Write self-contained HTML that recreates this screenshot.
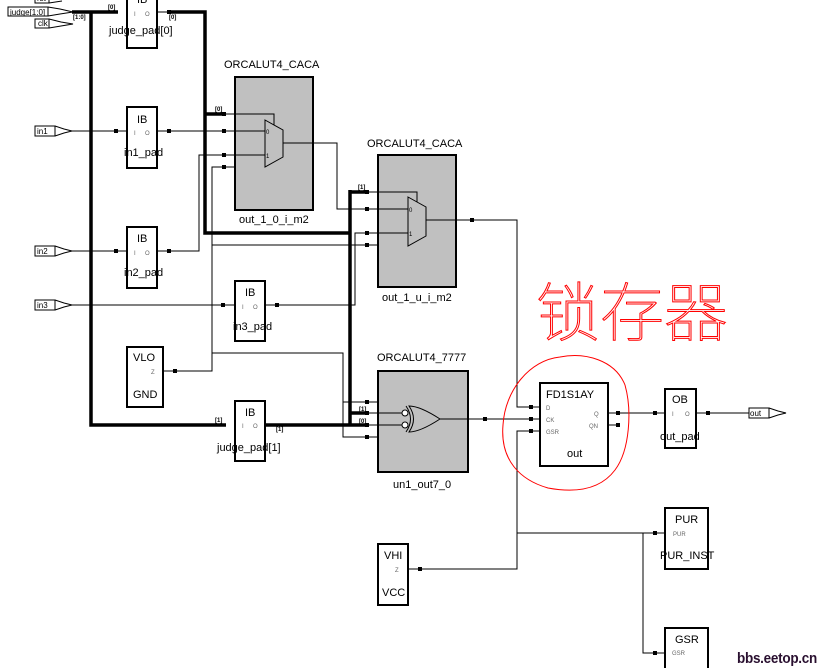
<!DOCTYPE html>
<html><head><meta charset="utf-8"><style>
html,body{margin:0;padding:0;background:#fff;}
svg{display:block;}
text{font-family:"Liberation Sans",Arial,sans-serif;}
.t{font-size:11px;fill:#000;}
.s{font-size:6px;fill:#666;}
.b{font-size:6px;fill:#000;font-weight:bold;}
</style></head><body>
<svg width="820" height="668" viewBox="0 0 820 668" xmlns="http://www.w3.org/2000/svg">
<g stroke="#000" fill="none" stroke-width="1">
<rect x="35" y="-6" width="14" height="9" fill="#fff"/>
<path d="M49,-6 L62,-2 L73,-1 M49,3 L62,1"/>
<rect x="8" y="7" width="40" height="9" fill="#fff"/>
<path d="M48,7 L60,9 L73,12 L60,14 L48,16"/>
<rect x="35" y="19" width="14" height="9" fill="#fff"/>
<path d="M49,19 L61,22 L73,24 L61,26 L49,28"/>
<g stroke-width="3.5">
<path d="M72,12 L118,12"/>
<path d="M91,12 L91,425 L226,425"/>
<path d="M168,12 L205,12 L205,233 L350,233"/>
<path d="M205,114 L224,114"/>
<path d="M350,190 L350,425"/>
<path d="M350,192 L367,192"/>
<path d="M350,413 L368,413"/>
<path d="M266,425 L368,425"/>
</g>
<rect x="127" y="-5" width="30" height="53" stroke-width="2" fill="#fff"/>
<rect x="127" y="107" width="30" height="61" stroke-width="2" fill="#fff"/>
<rect x="127" y="227" width="30" height="61" stroke-width="2" fill="#fff"/>
<rect x="235" y="281" width="30" height="60" stroke-width="2" fill="#fff"/>
<rect x="127" y="347" width="36" height="60" stroke-width="2" fill="#fff"/>
<rect x="235" y="401" width="30" height="60" stroke-width="2" fill="#fff"/>
<rect x="378" y="544" width="30" height="61" stroke-width="2" fill="#fff"/>
<rect x="235" y="77" width="78" height="133" stroke-width="2" fill="#c0c0c0"/>
<rect x="378" y="155" width="78" height="132" stroke-width="2" fill="#c0c0c0"/>
<rect x="378" y="371" width="90" height="101" stroke-width="2" fill="#c0c0c0"/>
<rect x="540" y="383" width="68" height="83" stroke-width="2" fill="#fff"/>
<rect x="665" y="389" width="31" height="59" stroke-width="2" fill="#fff"/>
<rect x="665" y="508" width="43" height="61" stroke-width="2" fill="#fff"/>
<rect x="665" y="628" width="43" height="50" stroke-width="2" fill="#fff"/>
<rect x="35" y="126" width="20" height="10" fill="#fff"/><path d="M55,126 L64,129 L72,131 L64,133 L55,136"/>
<rect x="35" y="246" width="20" height="10" fill="#fff"/><path d="M55,246 L64,249 L72,251 L64,253 L55,256"/>
<rect x="35" y="300" width="20" height="10" fill="#fff"/><path d="M55,300 L64,303 L72,305 L64,307 L55,310"/>
<rect x="749" y="408" width="20" height="10" fill="#fff"/><path d="M769,408 L778,411 L786,413 L778,415 L769,418"/>
<path d="M72,131 L127,131 M157,131 L224,131 L265,131"/>
<path d="M72,251 L127,251 M157,251 L199,251 L199,155 L265,155"/>
<path d="M72,305 L235,305 M265,305 L355,305 L355,233 L408,233"/>
<path d="M224,114 L274,114 L274,125"/>
<path d="M163,371 L212,371 L212,167 L235,167"/>
<path d="M212,245 L378,245"/>
<path d="M212,353 L343,353 L343,437 L378,437 M343,402 L378,402"/>
<path d="M283,143 L337,143 L337,209 L408,209"/>
<path d="M367,192 L417,192 L417,202"/>
<path d="M426,220 L517,220 L517,407 L540,407"/>
<path d="M368,413 L402,413 M368,425 L402,425"/>
<path d="M440,419 L540,419"/>
<path d="M408,569 L517,569 L517,431 L540,431"/>
<path d="M517,533 L665,533 M643,533 L643,653 L665,653"/>
<path d="M608,413 L665,413 M696,413 L749,413"/>
<path d="M608,425 L618,425"/>
<path d="M157,12 L168,12"/>
<path d="M265,120 L283,130 L283,157 L265,167 Z" fill="#c0c0c0"/>
<path d="M408,197 L426,207 L426,236 L408,246 Z" fill="#c0c0c0"/>
<path d="M409,406 Q420,406 440,419 Q420,432 409,432 Q418,419 409,406 Z" fill="#c0c0c0"/>
<path d="M406,406 Q415,419 406,432"/>
<circle cx="405" cy="413" r="3" fill="#fff"/>
<circle cx="405" cy="425" r="3" fill="#fff"/>
</g>
<g fill="#000">
<rect x="114" y="129" width="4" height="4"/><rect x="167" y="129" width="4" height="4"/>
<rect x="114" y="249" width="4" height="4"/><rect x="167" y="249" width="4" height="4"/>
<rect x="221" y="303" width="4" height="4"/><rect x="275" y="303" width="4" height="4"/>
<rect x="173" y="369" width="4" height="4"/>
<rect x="222" y="112" width="4" height="4"/><rect x="222" y="129" width="4" height="4"/><rect x="222" y="153" width="4" height="4"/><rect x="222" y="165" width="4" height="4"/>
<rect x="365" y="190" width="4" height="4"/><rect x="365" y="207" width="4" height="4"/><rect x="365" y="231" width="4" height="4"/><rect x="365" y="243" width="4" height="4"/>
<rect x="365" y="400" width="4" height="4"/><rect x="365" y="411" width="4" height="4"/><rect x="365" y="423" width="4" height="4"/><rect x="365" y="435" width="4" height="4"/>
<rect x="470" y="218" width="4" height="4"/><rect x="483" y="417" width="4" height="4"/>
<rect x="529" y="405" width="4" height="4"/><rect x="529" y="417" width="4" height="4"/><rect x="529" y="429" width="4" height="4"/>
<rect x="616" y="411" width="4" height="4"/><rect x="616" y="423" width="4" height="4"/>
<rect x="653" y="411" width="4" height="4"/><rect x="706" y="411" width="4" height="4"/>
<rect x="418" y="567" width="4" height="4"/><rect x="653" y="531" width="4" height="4"/><rect x="653" y="651" width="4" height="4"/>
<rect x="167" y="10" width="4" height="4"/>
</g>
<path d="M560,357 C530,360 505,390 503,425 C500,460 520,480 548,488 C575,493 600,490 615,470 C630,450 632,410 625,385 C615,360 585,352 560,357 Z" fill="none" stroke="#f00" stroke-width="1"/>
<g class="t">
<text x="137" y="3">IB</text>
<text x="109" y="34">judge_pad[0]</text>
<text x="137" y="123">IB</text><text x="124" y="156">in1_pad</text>
<text x="137" y="242">IB</text><text x="124" y="276">in2_pad</text>
<text x="245" y="296">IB</text><text x="233" y="330">in3_pad</text>
<text x="133" y="361">VLO</text><text x="133" y="398">GND</text>
<text x="245" y="416">IB</text><text x="217" y="451">judge_pad[1]</text>
<text x="384" y="559">VHI</text><text x="382" y="596">VCC</text>
<text x="224" y="68">ORCALUT4_CACA</text><text x="239" y="223">out_1_0_i_m2</text>
<text x="367" y="147">ORCALUT4_CACA</text><text x="382" y="301">out_1_u_i_m2</text>
<text x="377" y="361">ORCALUT4_7777</text><text x="393" y="488">un1_out7_0</text>
<text x="546" y="398">FD1S1AY</text><text x="567" y="457">out</text>
<text x="672" y="403">OB</text><text x="660" y="440">out_pad</text>
<text x="675" y="523">PUR</text><text x="660" y="559">PUR_INST</text>
<text x="675" y="643">GSR</text>
</g>
<g class="s">
<text x="134" y="16">I</text><text x="145" y="16">O</text>
<text x="134" y="135">I</text><text x="145" y="135">O</text>
<text x="134" y="255">I</text><text x="145" y="255">O</text>
<text x="242" y="309">I</text><text x="253" y="309">O</text>
<text x="151" y="374">Z</text>
<text x="242" y="428">I</text><text x="253" y="428">O</text>
<text x="395" y="572">Z</text>
<text x="672" y="416">I</text><text x="685" y="416">O</text>
<text x="546" y="410">D</text><text x="546" y="422">CK</text><text x="546" y="434">GSR</text>
<text x="594" y="416">Q</text><text x="589" y="428">QN</text>
<text x="673" y="536">PUR</text><text x="672" y="655">GSR</text>
<text x="266" y="134" fill="#000">0</text><text x="266" y="158" fill="#000">1</text>
<text x="409" y="212" fill="#000">0</text><text x="409" y="236" fill="#000">1</text>
</g>
<g style="font-size:8px" fill="#000">
<text x="10" y="15">judge[1:0]</text><text x="38" y="26">clk</text><text x="37" y="1">rst</text>
<text x="37" y="134">in1</text><text x="37" y="254">in2</text><text x="37" y="308">in3</text><text x="750" y="416">out</text>
</g>
<g class="b">
<text x="73" y="19">[1:0]</text><text x="108" y="9">[0]</text><text x="169" y="19">[0]</text>
<text x="215" y="111">[0]</text><text x="358" y="189">[1]</text>
<text x="215" y="422">[1]</text><text x="276" y="431">[1]</text>
<text x="359" y="411">[1]</text><text x="359" y="423">[0]</text>
</g>
<text x="536" y="336" style="font-size:64px;font-family:'Noto Sans CJK SC',sans-serif;font-weight:100" fill="none" stroke="#f00" stroke-width="1">锁存器</text>
<text x="737" y="663" style="font-size:15px;font-weight:bold;letter-spacing:-0.3px" fill="#2a1030" textLength="80" lengthAdjust="spacingAndGlyphs">bbs.eetop.cn</text>
</svg>
</body></html>
